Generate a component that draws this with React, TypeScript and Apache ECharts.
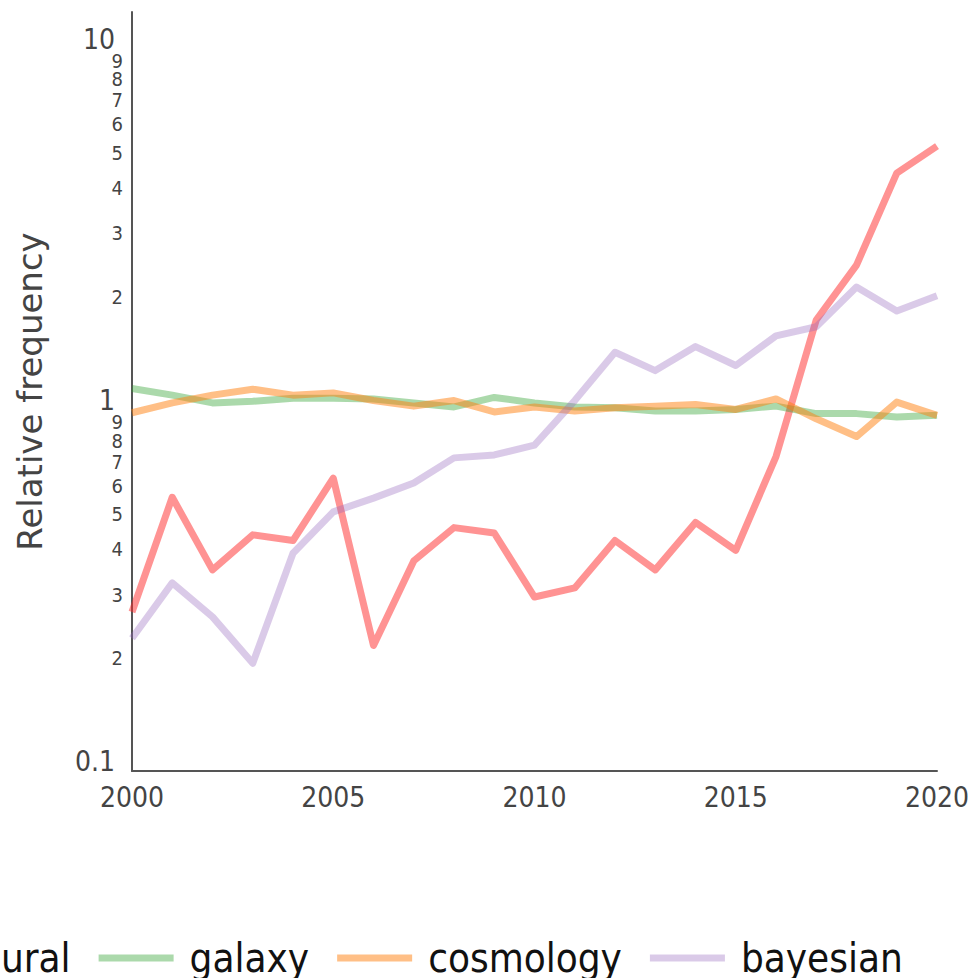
import React, { useEffect, useRef } from 'react';
import * as echarts from 'echarts';

const years = [2000, 2001, 2002, 2003, 2004, 2005, 2006, 2007, 2008, 2009, 2010, 2011, 2012, 2013, 2014, 2015, 2016, 2017, 2018, 2019, 2020];
const neural = [0.26, 0.54, 0.34, 0.425, 0.41, 0.61, 0.21, 0.36, 0.445, 0.43, 0.286, 0.303, 0.41, 0.34, 0.46, 0.385, 0.7, 1.67, 2.37, 4.26, 5.06];
const galaxy = [1.08, 1.035, 0.985, 0.995, 1.015, 1.015, 1.01, 0.985, 0.96, 1.02, 0.985, 0.96, 0.955, 0.935, 0.935, 0.945, 0.965, 0.92, 0.92, 0.9, 0.91];
const cosmology = [0.925, 0.985, 1.035, 1.075, 1.035, 1.05, 1.0, 0.965, 1.0, 0.93, 0.96, 0.935, 0.955, 0.965, 0.975, 0.945, 1.01, 0.89, 0.795, 0.99, 0.91];
const bayesian = [0.22, 0.313, 0.252, 0.1875, 0.378, 0.492, 0.537, 0.591, 0.694, 0.707, 0.753, 1.0, 1.36, 1.21, 1.41, 1.25, 1.51, 1.6, 2.06, 1.77, 1.95];

const seriesNames = ['neural', 'galaxy', 'cosmology', 'bayesian'];
const seriesColors = ['rgba(255,40,40,0.5)', 'rgba(44,160,44,0.4)', 'rgba(255,127,14,0.5)', 'rgba(148,103,189,0.35)'];

const yMajorValues = [0.1, 1, 10];
const yMajorLabels = ['0.1', '1', '10'];
const yMinorEvenValues = [0.2, 0.4, 0.6, 0.8, 2, 4, 6, 8];
const yMinorEvenLabels = ['2', '4', '6', '8', '2', '4', '6', '8'];
const yMinorOddValues = [0.3, 0.5, 0.7, 0.9, 3, 5, 7, 9];
const yMinorOddLabels = ['3', '5', '7', '9', '3', '5', '7', '9'];
const xTicks = [2000, 2005, 2010, 2015, 2020];

const Y_MIN = Math.pow(10, -1.025);
const Y_MAX = Math.pow(10, 1.075);

const CONDENSED = '"DejaVu Sans Condensed", "Liberation Sans Narrow", "DejaVu Sans", sans-serif';

function nearestLabel(v: number, vals: number[], labels: string[]) {
  let best = 0;
  for (let i = 0; i < vals.length; i++) {
    if (Math.abs(vals[i] - v) < Math.abs(vals[best] - v)) best = i;
  }
  return labels[best];
}

export default function App() {
  const ref = useRef<HTMLDivElement>(null);
  useEffect(() => {
    if (!ref.current) return;
    const chart = echarts.init(ref.current, null, { renderer: 'svg' });
    const all = [neural, galaxy, cosmology, bayesian];
    const overlayAxis = (values: number[], labels: string[], richKey: string) => {
      const custom = values.map((v) => Math.log10(v));
      return {
        type: 'value',
        min: Math.log10(Y_MIN),
        max: Math.log10(Y_MAX),
        position: 'left',
        splitLine: { show: false },
        axisTick: { show: false },
        axisLine: { show: false, onZero: false },
        axisLabel: {
          customValues: custom,
          margin: 9,
          color: '#444',
          fontFamily: CONDENSED,
          showMinLabel: true,
          showMaxLabel: true,
          hideOverlap: false,
          formatter: (v: number) => '{' + richKey + '|' + nearestLabel(v, custom, labels) + '}',
          rich: {
            maj: { fontSize: 28, fontFamily: CONDENSED, color: '#444', padding: [0, 8, 0, 0] },
            min: { fontSize: 20, fontFamily: CONDENSED, color: '#444', padding: [10, 0, 0, 0] },
          },
        },
      };
    };
    chart.setOption({
      animation: false,
      backgroundColor: '#fff',
      grid: { left: 132, top: 12, right: 42, bottom: 207, containLabel: false, outerBoundsMode: 'none' },
      legend: {
        data: seriesNames,
        left: -140,
        top: 933,
        icon: 'rect',
        itemWidth: 75,
        itemHeight: 7,
        itemGap: 28,
        textStyle: { fontSize: 40, fontFamily: CONDENSED, color: '#111', padding: [0, 0, 0, 11] },
      },
      xAxis: {
        type: 'value',
        min: 2000,
        max: 2020,
        interval: 5,
        splitLine: { show: false },
        axisTick: { show: false },
        axisLine: { show: true, onZero: false, lineStyle: { color: '#555', width: 2 } },
        axisLabel: {
          customValues: xTicks,
          margin: 12,
          fontSize: 28,
          fontFamily: CONDENSED,
          color: '#444',
          showMinLabel: true,
          showMaxLabel: true,
          formatter: (v: number) => String(v),
        },
      },
      yAxis: [
        {
          type: 'log',
          logBase: 10,
          min: Y_MIN,
          max: Y_MAX,
          name: 'Relative frequency',
          nameLocation: 'middle',
          nameGap: 85,
          nameTextStyle: { fontSize: 34, fontFamily: '"DejaVu Sans", sans-serif', color: '#444' },
          splitLine: { show: false },
          axisTick: { show: false },
          axisLabel: { show: false },
          axisLine: { show: true, onZero: false, lineStyle: { color: '#555', width: 2 } },
        },
        overlayAxis(yMajorValues, yMajorLabels, 'maj'),
        overlayAxis(yMinorEvenValues, yMinorEvenLabels, 'min'),
        overlayAxis(yMinorOddValues, yMinorOddLabels, 'min'),
      ],
      series: seriesNames.map((name, i) => ({
        name,
        type: 'line',
        yAxisIndex: 0,
        data: years.map((y, j) => [y, all[i][j]]),
        showSymbol: false,
        symbol: 'none',
        lineStyle: { width: 7, color: seriesColors[i], join: 'round' },
        itemStyle: { color: seriesColors[i] },
      })),
    });
    return () => chart.dispose();
  }, []);
  return <div ref={ref} style={{ width: 979, height: 978, position: 'absolute', left: 0, top: 0 }} />;
}
